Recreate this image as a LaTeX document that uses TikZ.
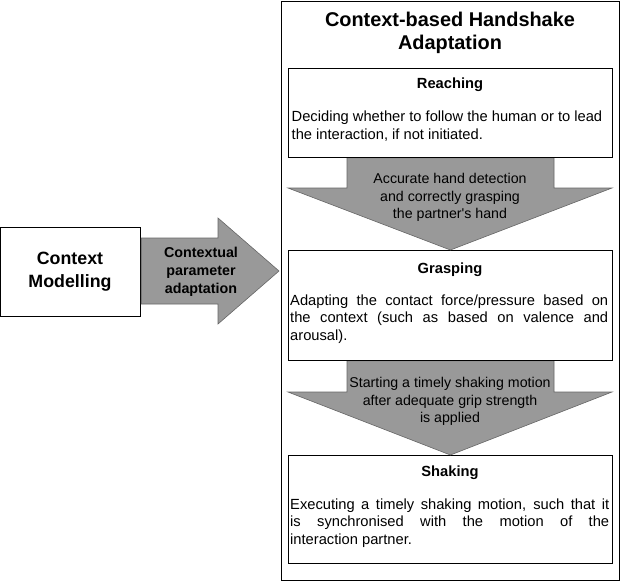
\documentclass[tikz,border=0pt]{standalone}
\usepackage{fontspec}
\setmainfont{Liberation Sans}
\definecolor{arrowfill}{HTML}{999999}
\definecolor{arrowline}{HTML}{666666}
\begin{document}
\begin{tikzpicture}[x=1pt,y=-1pt,
  box/.style={draw=black, line width=0.8pt, fill=white, inner sep=0pt, anchor=north west},
  bigarrow/.style={fill=arrowfill, draw=arrowline, line width=0.6pt},
  body/.style={font=\fontsize{14.7}{17.5}\selectfont},
  arrowtext/.style={font=\fontsize{14.2}{17.5}\selectfont},
  stagetitle/.style={font=\fontsize{14.7}{17.5}\selectfont\bfseries},
  txt/.style={inner sep=0pt, align=center}]
\useasboundingbox (0,0) rectangle (621,583);
% outer container
\node[box, minimum width=338pt, minimum height=579pt] (outer) at (281,1) {};
\node[txt, font=\fontsize{19.9}{23}\selectfont\bfseries] (title) at (450,32.5) {Context-based Handshake\\Adaptation};
% left box
\node[box, minimum width=140pt, minimum height=89pt] (ctx) at (0.4,227) {};
\node[txt, font=\fontsize{17.8}{23}\selectfont\bfseries] (ctxt) at (70,272) {Context\\Modelling};
% right arrow
\coordinate (ra1) at (ctx.east |- 0,238);
\draw[bigarrow] (ra1) -- (218,238) -- (218,218) -- (279,271) -- (218,324) -- (218,304) -- (ctx.east |- 0,304) -- cycle;
\node[txt, font=\fontsize{14.3}{18}\selectfont\bfseries] (cpa) at (201,272) {Contextual\\parameter\\adaptation};
% stage boxes
\node[box, minimum width=324pt, minimum height=89pt] (reach) at (288,68) {};
\node[box, minimum width=324pt, minimum height=110pt] (grasp) at (288,250) {};
\node[box, minimum width=324pt, minimum height=108pt] (shake) at (288,455) {};
% down arrows
\draw[bigarrow] (347,0 |- reach.south) -- (554,0 |- reach.south) -- (554,188) -- (612,188) -- (grasp.north) -- (288,188) -- (347,188) -- cycle;
\draw[bigarrow] (347,0 |- grasp.south) -- (554,0 |- grasp.south) -- (554,392) -- (612,392) -- (shake.north) -- (288,392) -- (347,392) -- cycle;
\draw[line width=0.8pt] (reach.south west) -- (reach.south east);
\draw[line width=0.8pt] (grasp.south west) -- (grasp.south east);
\node[txt, arrowtext] (a1) at (450,197.5) {Accurate hand detection\\and correctly grasping\\the partner\textquotesingle s hand};
\node[txt, arrowtext] (a2) at (450,401.5) {Starting a timely shaking motion\\after adequate grip strength\\is applied};
% stage texts
\node[txt, stagetitle, anchor=base] (reachT) at (450,89) {Reaching};
\node[inner sep=0pt, anchor=base west, body] (reachB) at (291.5,122) {\parbox[t]{319pt}{Deciding whether to follow the human or to lead\newline the interaction, if not initiated.}};
\node[txt, stagetitle, anchor=base] (graspT) at (450,273) {Grasping};
\node[inner sep=0pt, anchor=base west, body] (graspB) at (290,305) {\parbox[t]{318pt}{Adapting the contact force/pressure based on\linebreak the context (such as based on valence and\linebreak arousal).}};
\node[txt, stagetitle, anchor=base] (shakeT) at (450,476) {Shaking};
\node[inner sep=0pt, anchor=base west, body] (shakeB) at (290,509) {\parbox[t]{319pt}{Executing a timely shaking motion, such that it\linebreak is synchronised with the motion of the\linebreak interaction partner.}};
\end{tikzpicture}
\end{document}
